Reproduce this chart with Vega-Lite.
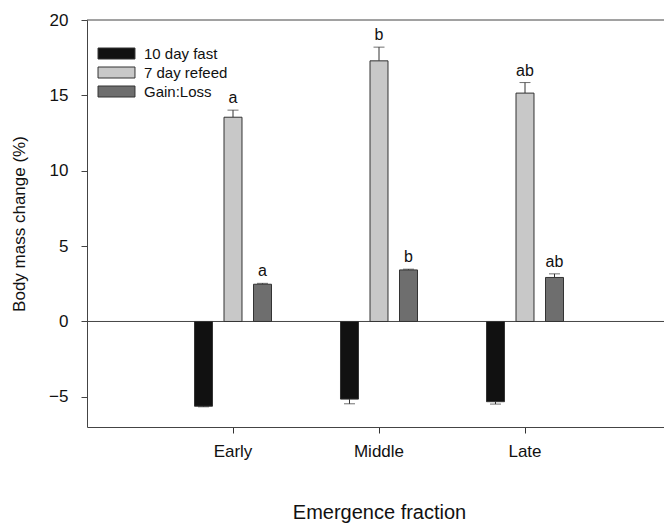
{
  "$schema": "https://vega.github.io/schema/vega-lite/v6.json",
  "width": 577,
  "height": 407,
  "autosize": "none",
  "padding": {"left": 87, "top": 20, "right": 0, "bottom": 98},
  "background": "white",
  "config": {
    "font": "Liberation Sans",
    "view": {"stroke": null},
    "axis": {"grid": false, "domainColor": "#444", "tickColor": "#444", "labelColor": "#111", "titleColor": "#111", "labelFont": "Liberation Sans", "titleFont": "Liberation Sans", "titleFontWeight": "normal"},
    "axisBand": {"ticks": true, "tickSize": 6, "tickColor": "#333", "tickWidth": 1, "tickOpacity": 1},
    "axisX": {"ticks": true, "tickSize": 6, "tickColor": "#333", "tickWidth": 1, "tickOpacity": 1},
    "legend": {"orient": "none", "legendX": 22, "legendY": 26}
  },
  "datasets": {
    "bars": [
      {"frac": "Early", "group": "10 day fast", "value": -5.62, "err_end": -5.66, "label": ""},
      {"frac": "Early", "group": "7 day refeed", "value": 13.55, "err_end": 14.02, "label": "a"},
      {"frac": "Early", "group": "Gain:Loss", "value": 2.47, "err_end": 2.53, "label": "a"},
      {"frac": "Middle", "group": "10 day fast", "value": -5.15, "err_end": -5.46, "label": ""},
      {"frac": "Middle", "group": "7 day refeed", "value": 17.29, "err_end": 18.2, "label": "b"},
      {"frac": "Middle", "group": "Gain:Loss", "value": 3.42, "err_end": 3.47, "label": "b"},
      {"frac": "Late", "group": "10 day fast", "value": -5.32, "err_end": -5.48, "label": ""},
      {"frac": "Late", "group": "7 day refeed", "value": 15.15, "err_end": 15.85, "label": "ab"},
      {"frac": "Late", "group": "Gain:Loss", "value": 2.92, "err_end": 3.16, "label": "ab"}
    ]
  },
  "layer": [
    {
      "data": {"values": [{}]},
      "mark": {"type": "rule", "color": "#444", "strokeWidth": 1},
      "encoding": {"y": {"datum": 20, "type": "quantitative", "scale": {"domain": [-7, 20], "nice": false, "zero": false}}}
    },
    {
      "data": {"values": [{}]},
      "mark": {"type": "rule", "color": "#444", "strokeWidth": 1},
      "encoding": {"y": {"datum": 0, "type": "quantitative"}}
    },
    {
      "data": {"name": "bars"},
      "encoding": {
        "x": {
          "field": "frac", "type": "nominal", "sort": ["Early", "Middle", "Late"],
          "scale": {"range": [0, 584], "paddingInner": 0, "paddingOuter": 0.5},
          "axis": {"title": "Emergence fraction", "labelAngle": 0, "labelFontSize": 17, "titleFontSize": 20, "ticks": true, "bandPosition": 0.5, "tickSize": 6, "tickWidth": 1, "tickColor": "#333", "labelPadding": 10, "titlePadding": 43, "domainColor": "#444"}
        },
        "xOffset": {
          "field": "group", "type": "nominal", "sort": ["10 day fast", "7 day refeed", "Gain:Loss"],
          "scale": {"range": [34.5, 111.5], "paddingInner": 0.39, "paddingOuter": 0}
        }
      },
      "layer": [
        {
          "mark": {"type": "rule", "color": "#333", "strokeWidth": 1},
          "encoding": {
            "y": {"field": "value", "type": "quantitative"},
            "y2": {"field": "err_end"}
          }
        },
        {
          "mark": {"type": "tick", "color": "#333", "thickness": 1, "size": 11, "orient": "horizontal"},
          "encoding": {
            "y": {"field": "err_end", "type": "quantitative"}
          }
        },
        {
          "mark": {"type": "bar", "stroke": "#333", "strokeWidth": 1},
          "encoding": {
            "y": {
              "field": "value", "type": "quantitative",
              "scale": {"domain": [-7, 20], "nice": false, "zero": false},
              "axis": {"title": "Body mass change (%)", "values": [-5, 0, 5, 10, 15, 20], "labelFontSize": 17, "titleFontSize": 17, "tickSize": 6, "labelPadding": 13, "titlePadding": 20}
            },
            "color": {
              "field": "group", "type": "nominal",
              "scale": {"domain": ["10 day fast", "7 day refeed", "Gain:Loss"], "range": ["#111111", "#c8c8c8", "#6e6e6e"]},
              "legend": {
                "title": null,
                "symbolType": "M-3.36,-1H3.36V1H-3.36Z",
                "symbolSize": 121,
                "symbolStrokeColor": "#333",
                "symbolStrokeWidth": 1,
                "symbolOpacity": 1,
                "labelFontSize": 15,
                "labelColor": "#111",
                "labelOffset": 20,
                "rowPadding": 3
              }
            }
          }
        },
        {
          "mark": {"type": "text", "fontSize": 16, "color": "#111", "baseline": "alphabetic", "dy": -7},
          "encoding": {
            "y": {"field": "err_end", "type": "quantitative"},
            "text": {"field": "label"}
          }
        }
      ]
    }
  ]
}
